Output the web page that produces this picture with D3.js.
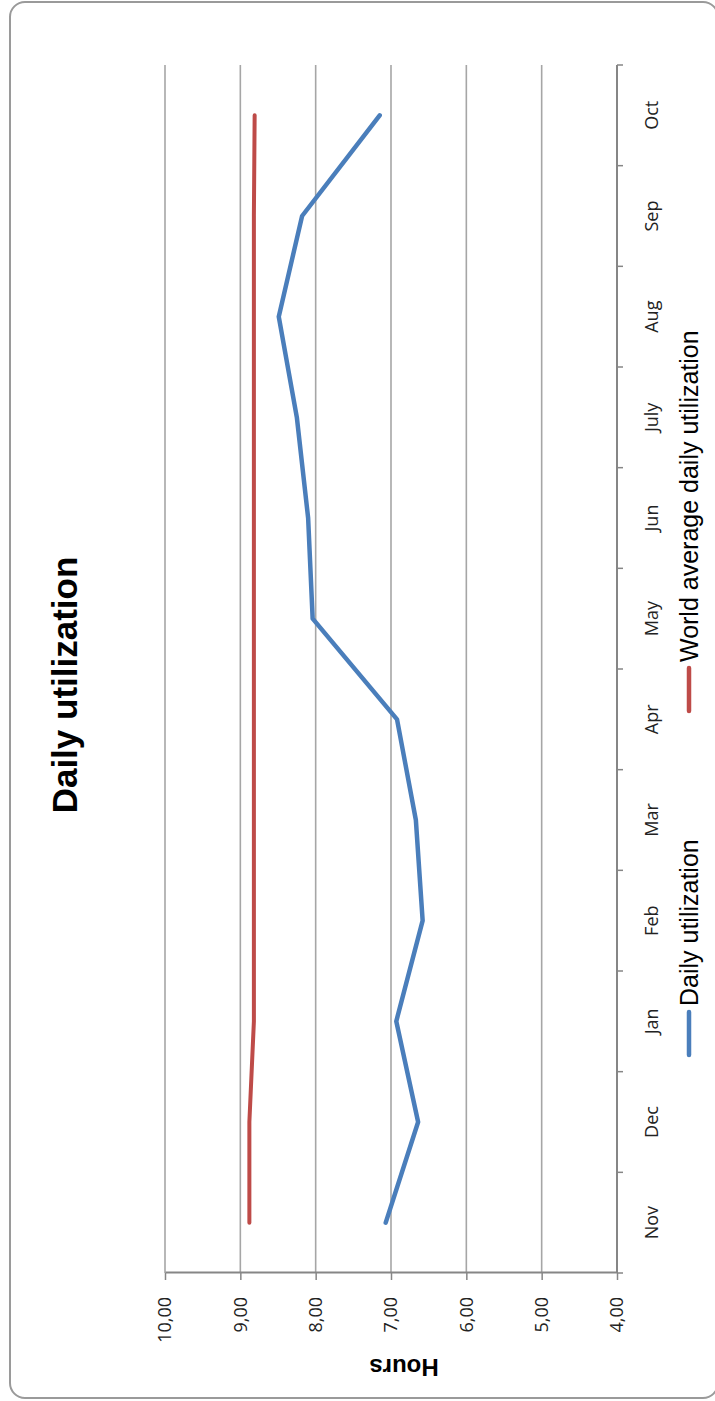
<!DOCTYPE html>
<html><head><meta charset="utf-8">
<script src="https://cdn.jsdelivr.net/npm/d3@7/dist/d3.min.js"></script>
<style>html,body{margin:0;padding:0;background:#fff;}svg{display:block;}</style>
</head><body>
<script>
const months = ["Nov","Dec","Jan","Feb","Mar","Apr","May","Jun","July","Aug","Sep","Oct"];
const dailyUtil = [7.07, 6.64, 6.93, 6.58, 6.67, 6.92, 8.04, 8.10, 8.25, 8.49, 8.18, 7.15];
const worldAvg = [8.88, 8.88, 8.82, 8.82, 8.82, 8.82, 8.82, 8.82, 8.82, 8.82, 8.82, 8.81];
const yTicks = [4, 5, 6, 7, 8, 9, 10];
const seriesNames = ["Daily utilization", "World average daily utilization"];
const seriesColors = ["#4a7ebb", "#be4b48"];

const W = 715, H = 1401;
const svg = d3.select("body").append("svg").attr("width", W).attr("height", H);
svg.append("rect").attr("width", W).attr("height", H).attr("fill", "#fff");

// chart drawn in landscape coordinates (1401 x 715), rotated -90deg
const g = svg.append("g").attr("transform", `translate(0,${H}) rotate(-90)`);
const font = "'Liberation Sans', Arial, sans-serif";
const tickFont = "'Open Sans', 'Liberation Sans', Arial, sans-serif";

// frame
g.append("rect").attr("x", 3).attr("y", 10).attr("width", 1396).attr("height", 708)
  .attr("rx", 15).attr("fill", "#fff").attr("stroke", "#9a9a9a").attr("stroke-width", 2);

const plot = {left: 128, right: 1336, top: 165, bottom: 617};
const x = d3.scaleBand().domain(months).range([plot.left, plot.right]);
const y = d3.scaleLinear().domain([4, 10]).range([plot.bottom, plot.top]);

// gridlines
g.append("g").selectAll("line").data(yTicks.filter(d => d !== 4)).join("line")
  .attr("x1", plot.left).attr("x2", plot.right)
  .attr("y1", d => y(d)).attr("y2", d => y(d))
  .attr("stroke", "#a6a6a6").attr("stroke-width", 1.6);

// value axis
const yAxis = g.append("g").attr("transform", `translate(${plot.left},0)`)
  .call(d3.axisLeft(y).tickValues(yTicks).tickSize(7).tickSizeOuter(0).tickPadding(17)
    .tickFormat(d => d3.format(".2f")(d).replace(".", ",")));
yAxis.select(".domain").attr("stroke", "#868686").attr("stroke-width", 2);
yAxis.selectAll(".tick line").attr("stroke", "#868686").attr("stroke-width", 1.5);
yAxis.selectAll(".tick text").attr("font-family", tickFont).attr("font-size", 18).attr("fill", "#222");

// category axis
const xAxis = g.append("g").attr("transform", `translate(0,${plot.bottom})`);
xAxis.append("line").attr("x1", plot.left).attr("x2", plot.right).attr("y1", 0).attr("y2", 0)
  .attr("stroke", "#868686").attr("stroke-width", 2);
const bounds = months.map(m => x(m)).concat([plot.right]);
xAxis.selectAll("line.tk").data(bounds).join("line").attr("class", "tk")
  .attr("x1", d => d).attr("x2", d => d).attr("y1", 0).attr("y2", 6)
  .attr("stroke", "#868686").attr("stroke-width", 1.5);
xAxis.selectAll("text").data(months).join("text")
  .attr("x", d => x(d) + x.bandwidth() / 2).attr("y", 41)
  .attr("text-anchor", "middle").attr("font-family", tickFont).attr("font-size", 18).attr("fill", "#222")
  .text(d => d);

// lines
const line = d3.line().x((d, i) => x(months[i]) + x.bandwidth() / 2).y(d => y(d));
[dailyUtil, worldAvg].forEach((s, k) => {
  g.append("path").datum(s).attr("d", line).attr("fill", "none")
    .attr("stroke", seriesColors[k]).attr("stroke-width", k === 0 ? 4.5 : 4)
    .attr("stroke-linejoin", "round").attr("stroke-linecap", "round");
});

// title
g.append("text").attr("x", 716).attr("y", 77).attr("text-anchor", "middle")
  .attr("font-family", font).attr("font-weight", "bold").attr("font-size", 35).attr("fill", "#000")
  .text("Daily utilization");

// axis title
g.append("text").attr("transform", "translate(42,404) rotate(-90)").attr("text-anchor", "middle")
  .attr("font-family", font).attr("font-weight", "bold").attr("font-size", 24).attr("fill", "#000")
  .text("Hours");

// legend
const legendX = [344, 688];
seriesNames.forEach((name, k) => {
  const lg = g.append("g").attr("transform", `translate(${legendX[k]},0)`);
  lg.append("line").attr("x1", 2).attr("x2", 45).attr("y1", 689).attr("y2", 689)
    .attr("stroke", seriesColors[k]).attr("stroke-width", 4.5).attr("stroke-linecap", "round");
  lg.append("text").attr("x", 51).attr("y", 698).attr("font-family", font).attr("font-size", 25)
    .attr("fill", "#000").text(name);
});
</script>
</body></html>
